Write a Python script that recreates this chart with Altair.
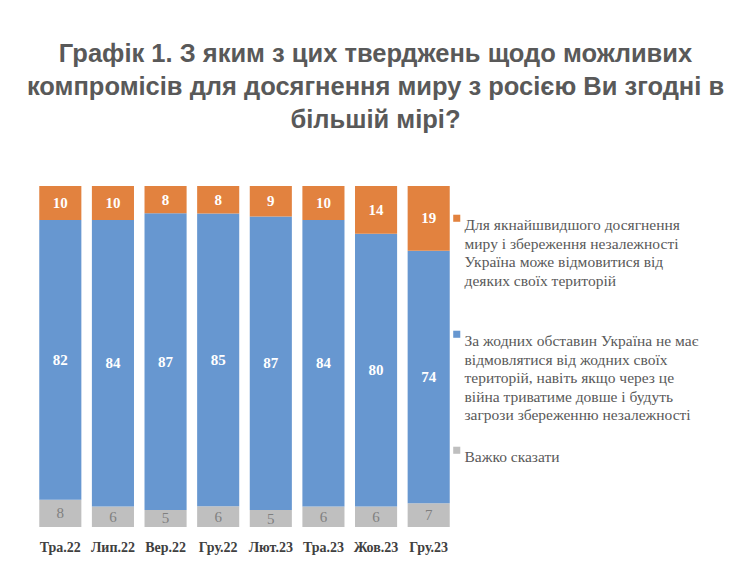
import altair as alt
import pandas as pd

months = ["Тра.22", "Лип.22", "Вер.22", "Гру.22", "Лют.23", "Тра.23", "Жов.23", "Гру.23"]
orange_vals = [10, 10, 8, 8, 9, 10, 14, 19]
blue_vals = [82, 84, 87, 85, 87, 84, 80, 74]
gray_vals = [8, 6, 5, 6, 5, 6, 6, 7]

cat_orange = "Для якнайшвидшого досягнення|миру і збереження незалежності|Україна може відмовитися від|деяких своїх територій| "
cat_blue = "За жодних обставин Україна не має|відмовлятися від жодних своїх|територій, навіть якщо через це|війна триватиме довше і будуть|загрози збереженню незалежності"
cat_gray = "Важко сказати"

categories = [cat_orange, cat_blue, cat_gray]
colors = ["#E2823F", "#6797D0", "#BFBFBF"]

rows = []
for i, m in enumerate(months):
    rows.append({"month": m, "cat": cat_gray, "order": 0, "value": gray_vals[i]})
    rows.append({"month": m, "cat": cat_blue, "order": 1, "value": blue_vals[i]})
    rows.append({"month": m, "cat": cat_orange, "order": 2, "value": orange_vals[i]})
df = pd.DataFrame(rows)

title_lines = [
    "\u00a0\u00a0\u00a0\u00a0Графік 1. З яким з цих тверджень щодо можливих",
    "компромісів для досягнення миру з росією Ви згодні в",
    "більшій мірі?",
]

base = alt.Chart(df).transform_joinaggregate(
    total="sum(value)", groupby=["month"]
).transform_window(
    cum="sum(value)", groupby=["month"], sort=[alt.SortField("order")], frame=[None, 0]
).transform_calculate(
    y0="(datum.cum - datum.value) / datum.total",
    y1="datum.cum / datum.total",
    ym="(datum.cum - datum.value / 2) / datum.total",
)

xenc = alt.X(
    "month:N",
    sort=months,
    title=None,
    scale=alt.Scale(paddingInner=0.2, paddingOuter=0.1),
    axis=alt.Axis(
        domain=False, ticks=False, labelAngle=0, labelPadding=13,
        labelFont="Liberation Serif", labelFontSize=14, labelFontWeight="bold",
        labelColor="#404040",
    ),
)

bars = base.mark_bar().encode(
    x=xenc,
    y=alt.Y("y0:Q", scale=alt.Scale(domain=[0, 1]), axis=None),
    y2="y1:Q",
    color=alt.Color(
        "cat:N",
        scale=alt.Scale(domain=categories, range=colors),
        legend=alt.Legend(
            title=None, orient="none", legendX=415, legendY=24.5,
            symbolType="square", symbolSize=50, symbolStrokeWidth=0,
            labelFont="Liberation Serif", labelFontSize=15.5, labelColor="#595959",
            labelLimit=400, labelBaseline="top", labelOffset=0,
            labelExpr="split(datum.label, '|')",
            rowPadding=18, padding=0,
        ),
    ),
)

text_white = base.transform_filter("datum.order > 0").mark_text(
    font="Liberation Serif", fontSize=15, fontWeight="bold", color="white"
).encode(x=alt.X("month:N", sort=months), y=alt.Y("ym:Q"), text="value:Q")

text_gray = base.transform_filter("datum.order == 0").mark_text(
    font="Liberation Serif", fontSize=15, color="#7F7F7F"
).encode(x=alt.X("month:N", sort=months), y=alt.Y("ym:Q"), text="value:Q")

chart = alt.layer(bars, text_white, text_gray).properties(
    width=421,
    height=341,
    autosize=alt.AutoSizeParams(type="none"),
    padding={"left": 26, "top": 178, "right": 277, "bottom": 53},
    title=alt.TitleParams(
        text=title_lines,
        font="Liberation Sans",
        fontSize=25.5,
        fontWeight="bold",
        color="#595959",
        lineHeight=33,
        anchor="middle",
        dx=131,
        offset=53,
    ),
).configure(
    view=alt.ViewConfig(stroke=None),
    style={"guide-label": {"lineHeight": 18.5, "font": "Liberation Serif", "fontSize": 15.5}},
)

chart.save("out.html", embed_options={"renderer": "svg", "actions": False})
